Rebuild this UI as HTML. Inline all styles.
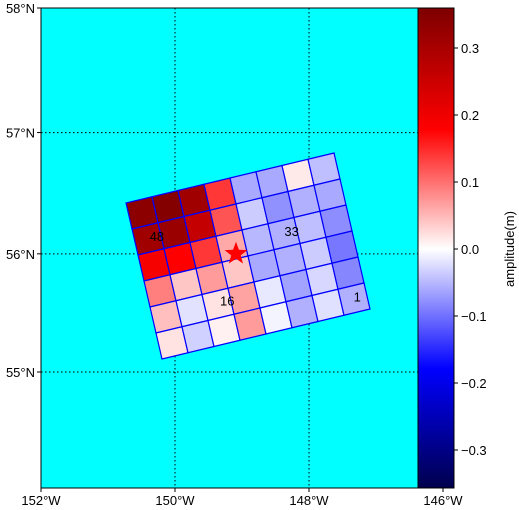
<!DOCTYPE html>
<html><head><meta charset="utf-8"><style>
html,body{margin:0;padding:0;background:#fff;}
svg{display:block;font-family:"Liberation Sans","DejaVu Sans",sans-serif;}
</style></head><body>
<svg id="chart" width="519" height="510" viewBox="0 0 519 510" xmlns="http://www.w3.org/2000/svg">
<rect x="41" y="8" width="377" height="480" fill="#00ffff"/>
<g id="grid-lines"></g>
<g id="cells"></g>
<g id="labels"></g>
<polygon id="star" fill="#ff0000"/>
<rect x="41" y="8" width="377" height="480" fill="none" stroke="#000" stroke-width="1"/>
<g id="axes"></g>
<g id="cbar"></g>
<text x="514" y="249" font-size="13" text-anchor="middle" transform="rotate(-90 514 249)">amplitude(m)</text>
</svg>
<script>
const lonTicks = [-152, -150, -148, -146];
const lonLabels = ["152°W", "150°W", "148°W", "146°W"];
const latTicks = [58, 57, 56, 55];
const latLabels = ["58°N", "57°N", "56°N", "55°N"];
const cbTicks = [0.3, 0.2, 0.1, 0.0, -0.1, -0.2, -0.3];
const cbLabels = ["0.3", "0.2", "0.1", "0.0", "−0.1", "−0.2", "−0.3"];
const slipRow0 = [0.34, 0.35, 0.31, 0.14, -0.06, -0.06, 0.015, -0.045];
const slipRow1 = [0.31, 0.32, 0.26, 0.12, -0.036, -0.078, -0.055, -0.06];
const slipRow2 = [0.19, 0.18, 0.14, 0.06, -0.05, -0.055, -0.045, -0.08];
const slipRow3 = [0.09, 0.04, 0.07, 0.04, -0.06, -0.055, -0.036, -0.095];
const slipRow4 = [0.045, -0.02, 0.02, 0.065, -0.016, -0.065, -0.028, -0.085];
const slipRow5 = [0.02, -0.032, 0.01, 0.07, -0.008, -0.055, -0.022, -0.055];
const patchLabels = ["48", "33", "16", "1"];
const patchLabelLon = [-150.27, -148.26, -149.22, -147.28];
const patchLabelLat = [56.15, 56.19, 55.61, 55.64];
const epicenter = [-149.09, 56.0];
const vmin = -0.357, vmax = 0.357;

const NS = "http://www.w3.org/2000/svg";
function el(tag, attrs, parent){const e=document.createElementNS(NS,tag);for(const k in attrs)e.setAttribute(k,attrs[k]);parent.appendChild(e);return e;}
const xScale = lon => 175 + (lon + 150) * 67;
function yScale(lat){
  const m = lat => Math.log(Math.tan(Math.PI/4 + lat*Math.PI/360));
  const k = (372-8)/(m(58)-m(55));
  return 8 + (m(58)-m(lat))*k;
}
const cbScale = v => 249 - v * 670;
function seismic(v){
  let t=(v-vmin)/(vmax-vmin); t=Math.max(0,Math.min(1,t));
  let r,g,b;
  if(t<0.25){r=0;g=0;b=0.3+0.7*t/0.25;}
  else if(t<0.5){const f=(t-0.25)/0.25;r=f;g=f;b=1;}
  else if(t<0.75){const f=(t-0.5)/0.25;r=1;g=1-f;b=1-f;}
  else {const f=(t-0.75)/0.25;r=1-0.5*f;g=0;b=0;}
  return `rgb(${Math.round(r*255)},${Math.round(g*255)},${Math.round(b*255)})`;
}
const gl=document.getElementById('grid-lines');
[-150,-148].forEach(lon=>{const l=el('line',{x1:xScale(lon),x2:xScale(lon),y1:8,y2:488,stroke:'#000','stroke-width':1,'stroke-dasharray':'1.5,2.5'},gl);
});
[57,56,55].forEach(lat=>{const l=el('line',{x1:41,x2:418,y1:yScale(lat),y2:yScale(lat),stroke:'#000','stroke-width':1,'stroke-dasharray':'1.5,2.5'},gl);
});
const rows=[slipRow0,slipRow1,slipRow2,slipRow3,slipRow4,slipRow5];
const P0=[126,203], colV=[(334-126)/8,(153-203)/8], rowV=[(162-126)/6,(359-203)/6];
const cg=document.getElementById('cells');
function pt(c,r){return [P0[0]+c*colV[0]+r*rowV[0], P0[1]+c*colV[1]+r*rowV[1]];}
rows.forEach((row,r)=>row.forEach((v,c)=>{
  const pts=[pt(c,r),pt(c+1,r),pt(c+1,r+1),pt(c,r+1)].map(p=>p.join(',')).join(' ');
  const p=el('polygon',{points:pts,fill:seismic(v),stroke:'#0000ff','stroke-width':1.2},cg);
  
  
}));
const lg=document.getElementById('labels');
patchLabels.forEach((t,i)=>{const e=el('text',{x:xScale(patchLabelLon[i]),y:yScale(patchLabelLat[i])+5,'font-size':13,'text-anchor':'middle',fill:'#000'},lg);e.textContent=t;
});
(function(){const cx=xScale(epicenter[0]),cy=yScale(epicenter[1]),R=12,r=5;let s=[];
for(let i=0;i<10;i++){const a=-Math.PI/2+i*Math.PI/5,rr=i%2?r:R;s.push((cx+rr*Math.cos(a)).toFixed(1)+','+(cy+rr*Math.sin(a)).toFixed(1));}
document.getElementById('star').setAttribute('points',s.join(' '));})();
const ax=document.getElementById('axes');
lonTicks.forEach((lon,i)=>{const x=xScale(lon);
const tk=el('line',{x1:x,x2:x,y1:488,y2:492,stroke:'#000'},ax);
const t=el('text',{x:x,y:505,'font-size':13,'text-anchor':'middle'},ax);t.textContent=lonLabels[i];
});
latTicks.forEach((lat,i)=>{const y=yScale(lat);
const tk=el('line',{x1:37,x2:41,y1:y,y2:y,stroke:'#000'},ax);
const t=el('text',{x:35,y:y+5,'font-size':13,'text-anchor':'end'},ax);t.textContent=latLabels[i];
});
const cb=document.getElementById('cbar');
for(let y=8;y<488;y++){const v=(249-(y+0.5))/670;el('rect',{x:418,y:y,width:36,height:1.05,fill:seismic(v)},cb);}
const fr=el('rect',{x:418,y:8,width:36,height:480,fill:'none',stroke:'#000'},cb);

cbTicks.forEach((v,i)=>{const y=cbScale(v);
const tk=el('line',{x1:454,x2:458,y1:y,y2:y,stroke:'#000'},cb);
const t=el('text',{x:461,y:y+5,'font-size':13},cb);t.textContent=cbLabels[i];
});
</script>
</body></html>
